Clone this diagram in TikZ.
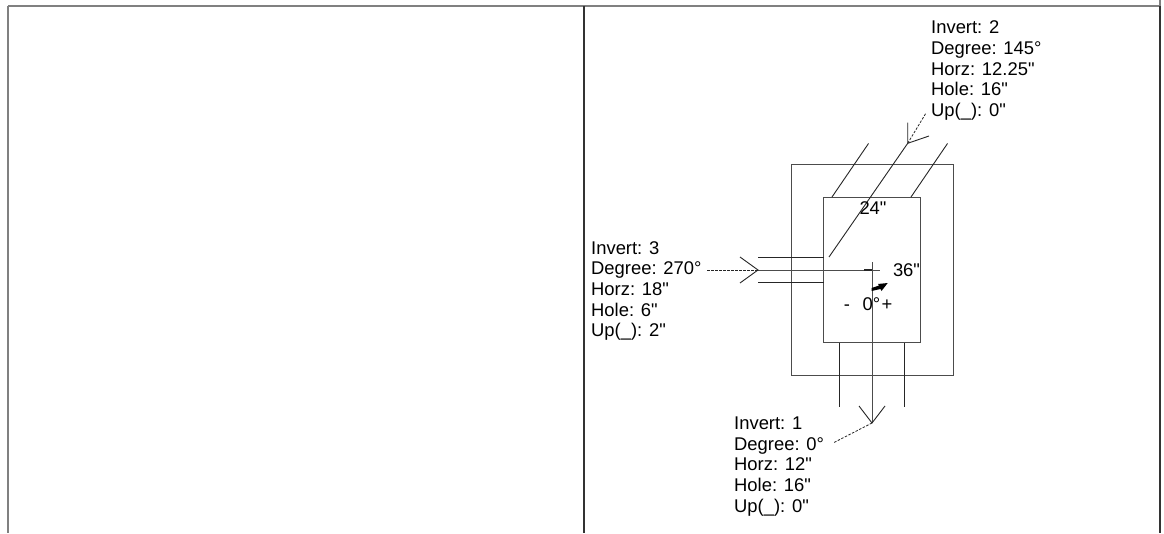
\documentclass[tikz,border=0pt]{standalone}
\usepackage{fontspec}
\newfontfamily\lblfont{Liberation Sans}
\tikzset{
  frameline/.style={draw=black!50,line width=2pt},
  darkframe/.style={draw=black!80,line width=2pt},
  thinline/.style={draw=black!85,line width=0.9pt},
  boxline/.style={draw=black!70,line width=1pt},
  dashline/.style={draw=black!85,line width=0.8pt,dash pattern=on 2.5pt off 1.5pt},
  lbl/.style={inner sep=0pt,anchor=west,align=left,font=\lblfont\fontsize{18.4}{20.7}\selectfont,text=black},
  dim/.style={inner sep=0pt,anchor=base,font=\lblfont\fontsize{18.4}{20.7}\selectfont,text=black}
}
\begin{document}
\begin{tikzpicture}[x=1pt,y=-1pt]
\useasboundingbox (0,0) rectangle (1164,533);
\fill[white] (0,0) rectangle (1164,533);
% frame
\coordinate (tl) at (8,6);
\coordinate (tr) at (1160,6);
\coordinate (bl) at (8,533);
\coordinate (tm) at (583.8,6);
\coordinate (bm) at (583.8,533);
\coordinate (trtop) at (1160,0);
\coordinate (trbot) at (1160,533);
\draw[frameline] (tl) -- (tr);
\draw[frameline] (tl) -- (bl);
\draw[darkframe] (tm) -- (bm);
\draw[frameline] (trtop) -- (tr);
\draw[darkframe] (tr) -- (trbot);
% boxes
\node[boxline,draw,minimum width=162pt,minimum height=210.5pt,inner sep=0pt] (outer) at (872,269.75) {};
\node[boxline,draw,minimum width=97pt,minimum height=145.5pt,inner sep=0pt] (inner) at (872,269.75) {};
% top stubs and line
\coordinate (t1) at (832,197); \coordinate (t1e) at (868.5,143.5);
\coordinate (t2) at (911,197); \coordinate (t2e) at (947.5,143.5);
\coordinate (t3) at (829,257); \coordinate (t3e) at (907.7,143.3);
\coordinate (t3a) at (907.7,122.5); \coordinate (t3b) at (929,136);
\coordinate (t3d) at (926,113);
\draw[thinline] (t1) -- (t1e);
\draw[thinline] (t2) -- (t2e);
\draw[thinline] (t3) -- (t3e);
\draw[thinline] (t3a) -- (t3e) -- (t3b);
\draw[dashline] (t3e) -- (t3d);
% left
\coordinate (l1) at (758,257.5); \coordinate (l1e) at (823.5,257.5);
\coordinate (l2) at (758,282); \coordinate (l2e) at (823.5,282);
\coordinate (l3) at (758,270); \coordinate (l3e) at (880,270);
\coordinate (l3a) at (740,257); \coordinate (l3b) at (740,283);
\coordinate (l3d) at (707,270);
\draw[thinline] (l1) -- (l1e);
\draw[thinline] (l2) -- (l2e);
\draw[boxline] (l3) -- (l3e);
\draw[thinline] (l3a) -- (l3) -- (l3b);
\draw[dashline] (l3d) -- (l3);
% bottom
\coordinate (b1) at (839.5,342.5); \coordinate (b1e) at (839.5,407);
\coordinate (b2) at (904,342.5); \coordinate (b2e) at (904,407);
\coordinate (b3) at (872,262); \coordinate (b3e) at (872,423);
\coordinate (b3a) at (859,406); \coordinate (b3b) at (885,406);
\coordinate (b3d) at (833,443);
\draw[thinline] (b1) -- (b1e);
\draw[thinline] (b2) -- (b2e);
\draw[boxline] (b3) -- (b3e);
\draw[thinline] (b3a) -- (b3e) -- (b3b);
\draw[dashline] (b3e) -- (b3d);
% centre mark
\coordinate (c1) at (864,270); \coordinate (c2) at (872,270);
\draw[draw=black!85,line width=1.2pt] (c1) -- (c2);
\fill[black] (871.5,288) -- (879,285.5) -- (878,284) -- (887.7,283) -- (881.5,291) -- (880.5,289) -- (871.5,291) -- cycle;
% labels
\node[lbl] (n2) at (931,70.5) {Invert: 2\\Degree: 145°\\Horz: 12.25"\\Hole: 16"\\Up(\_): 0"};
\node[lbl] (n3) at (591,291) {Invert: 3\\Degree: 270°\\Horz: 18"\\Hole: 6"\\Up(\_): 2"};
\node[lbl] (n1) at (734,466.5) {Invert: 1\\Degree: 0°\\Horz: 12"\\Hole: 16"\\Up(\_): 0"};
\node[dim] (d24) at (873,214) {24"};
\node[dim] (d36) at (906.5,276) {36"};
\node[dim] (dm) at (847,310) {-};
\node[dim] (d0) at (871.5,310) {0°};
\node[dim] (dp) at (887,310) {+};
\end{tikzpicture}
\end{document}
